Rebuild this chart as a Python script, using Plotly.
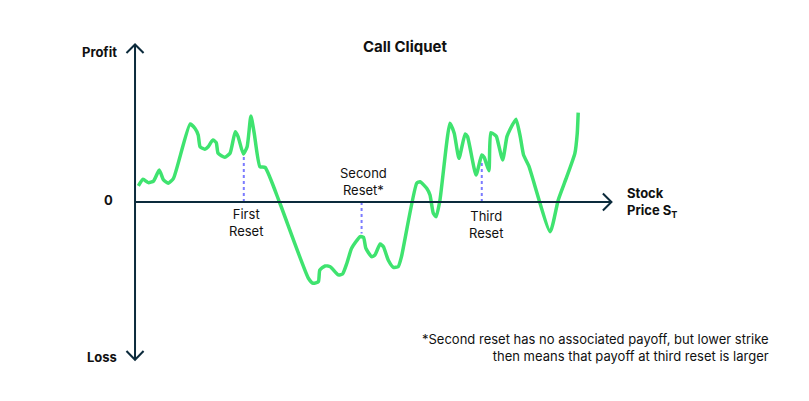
import plotly.graph_objects as go

# Stock price path (arbitrary units: price 0-100, profit -100..100)
price = [0.7, 1.7, 2.8, 3.9, 5.1, 6.0, 7.0, 8.1, 11.6, 12.6, 13.3, 13.7, 14.7, 15.4, 16.4, 17.1,
         17.5, 18.9, 20.0, 21.1, 21.7, 22.8, 23.6, 24.4, 25.1, 26.3, 27.4, 30.5, 36.5, 37.5,
         38.6, 38.9, 40.0, 41.1, 42.8, 43.7, 44.6, 45.6, 47.4, 48.1, 48.6, 49.8, 50.5, 51.6,
         52.3, 53.3, 54.4, 55.4, 56.1, 59.3, 60.0, 61.4, 62.1, 62.8, 63.4, 64.2, 66.3, 67.2,
         68.2, 69.5, 70.0, 71.8, 73.0, 73.5, 74.5, 74.9, 75.8, 76.1, 77.4, 78.3, 78.9, 80.2,
         81.1, 81.8, 82.9, 87.4, 89.1, 90.9, 92.6, 93.1, 93.3]
profit = [10.2, 14.4, 12.3, 13.3, 20.3, 14.0, 11.9, 15.0, 49.5, 46.8, 42.5, 35.1, 33.5, 35.1, 39.4, 37.7,
          30.9, 28.4, 30.9, 44.6, 41.5, 30.5, 35.1, 54.6, 43.6, 22.4, 21.9, -0.8, -48.4, -51.6,
          -50.6, -43.2, -40.6, -41.1, -46.3, -45.7, -38.9, -29.4, -22.0, -22.4, -29.4, -34.7, -33.7, -26.7,
          -28.4, -36.8, -41.5, -41.1, -34.7, 11.9, 12.9, 8.7, 4.4, -7.2, -9.3, 1.3, 50.0, 43.6,
          27.7, 43.2, 41.5, 17.1, 29.8, 28.4, 19.9, 44.0, 42.5, 41.5, 26.7, 41.5, 45.7, 52.5,
          41.5, 29.8, 22.9, -18.9, 1.3, 16.1, 30.9, 43.6, 56.7]

reset_x = [22.9, 47.7, 73.0]
reset_y = [30.0, -20.0, 26.0]
reset_labels = ["First<br>Reset", "Second<br>Reset*", "Third<br>Reset"]

AXIS = "#0c2b3c"
GREEN = "#3fe36f"
DASH = "#7b7bff"
FONT = "Inter"

fig = go.Figure()

# dashed reset lines
for rx, ry in zip(reset_x, reset_y):
    fig.add_trace(go.Scatter(x=[rx, rx], y=[0, ry], mode="lines",
                             line=dict(color=DASH, width=2, dash="dot"),
                             hoverinfo="skip", showlegend=False))

fig.add_trace(go.Scatter(x=price, y=profit, mode="lines",
                         line=dict(color=GREEN, width=3.5, shape="spline", smoothing=0.5),
                         showlegend=False))

shapes = [
    dict(type="line", x0=0, x1=0, y0=-100, y1=99.7, line=dict(color=AXIS, width=2)),
    dict(type="line", x0=0, x1=100.2, y0=0, y1=0, line=dict(color=AXIS, width=2)),
    dict(type="path", path="M -1.8,94.6 L 0,100 L 1.8,94.6", line=dict(color=AXIS, width=2)),
    dict(type="path", path="M -1.8,-94.6 L 0,-100.2 L 1.8,-94.6", line=dict(color=AXIS, width=2)),
    dict(type="path", path="M 98.5,5.4 L 100.3,0 L 98.5,-5.4", line=dict(color=AXIS, width=2)),
]

annotations = [
    dict(x=0.4956, y=0.9015, xref="paper", yref="paper", text="<b>Call Cliquet</b>", showarrow=False,
         font=dict(size=15, color="#111111", family=FONT), xanchor="center", yanchor="middle"),
    dict(x=-3.4, y=95.3, text="<b>Profit</b>", showarrow=False, xanchor="right", yanchor="middle",
         font=dict(size=13, color="#111111", family=FONT)),
    dict(x=-4.3, y=1.5, text="<b>0</b>", showarrow=False, xanchor="right", yanchor="middle",
         font=dict(size=13, color="#111111", family=FONT)),
    dict(x=-3.4, y=-98.6, text="<b>Loss</b>", showarrow=False, xanchor="right", yanchor="middle",
         font=dict(size=13, color="#111111", family=FONT)),
    dict(x=103.2, y=0, text="<b>Stock<br>Price S<sub>T</sub></b>", showarrow=False, xanchor="left",
         yanchor="middle", align="left", font=dict(size=13, color="#111111", family=FONT)),
    dict(x=reset_x[0] + 0.4, y=-1.5, text=reset_labels[0], showarrow=False, xanchor="center",
         yanchor="top", font=dict(size=13, color="#111111", family=FONT)),
    dict(x=reset_x[1] + 0.3, y=1.5, text=reset_labels[1], showarrow=False, xanchor="center",
         yanchor="bottom", font=dict(size=13, color="#111111", family=FONT)),
    dict(x=reset_x[2] + 0.8, y=-2.5, text=reset_labels[2], showarrow=False, xanchor="center",
         yanchor="top", font=dict(size=13, color="#111111", family=FONT)),
    dict(x=0.953, y=0.137, xref="paper", yref="paper",
         text="*Second reset has no associated payoff, but lower strike<br>then means that payoff at third reset is larger",
         showarrow=False, xanchor="right", yanchor="middle", align="right",
         font=dict(size=13, color="#111111", family=FONT)),
]

# page body adds an 8px offset; figure is sized to fill the rest of the window
fig.update_layout(
    width=801, height=393,
    margin=dict(l=0, r=0, t=0, b=0),
    paper_bgcolor="white", plot_bgcolor="white",
    xaxis=dict(range=[-26.74, 141.89], visible=False, fixedrange=True),
    yaxis=dict(range=[-126.35, 123.17], visible=False, fixedrange=True),
    shapes=shapes, annotations=annotations,
    font=dict(family=FONT),
)

fig.write_html("out.html")
